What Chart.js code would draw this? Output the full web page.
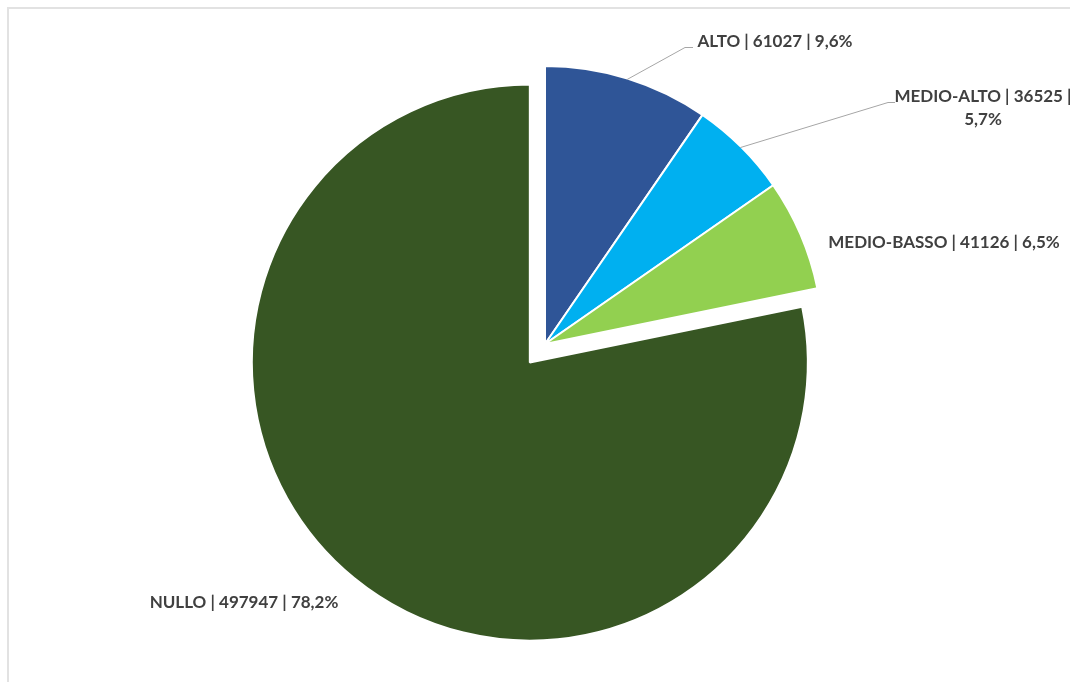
<!DOCTYPE html>
<html lang="it">
<head>
    <meta charset="UTF-8">
    <title>Distribuzione per classe</title>
    <script src="https://cdn.jsdelivr.net/npm/chart.js@4"></script>
    <style>
        * { margin: 0; padding: 0; }
        body { background: #fff; width: 1070px; height: 682px; overflow: hidden; position: relative; }
        #frame {
            position: absolute; left: 7px; top: 7px; width: 1100px; height: 700px;
            border-top: 2px solid #e2e2e2; border-left: 2px solid #e2e2e2;
        }
        canvas { position: absolute; left: 0; top: 0; }
    </style>
</head>
<body>
<div id="frame"></div>
<canvas id="myChart" width="1070" height="682"></canvas>
<script>
    // data
    var categories = ['ALTO', 'MEDIO-ALTO', 'MEDIO-BASSO', 'NULLO'];
    var values = [61027, 36525, 41126, 497947];
    var colors = ['#2F5597', '#00B0F0', '#92D050', '#375623'];

    // how far each slice is pulled out (px)
    var explode = [0, 0, 0, 24];

    // label placement: centre x, baseline y, elbow of leader line (if any)
    var labelPos = [
        {x: 775, y: 47, wrap: false, leader: [[685, 47], [693, 47]]},
        {x: 983, y: 102, wrap: true, leader: [[888, 102], [895, 102]]},
        {x: 944, y: 248, wrap: false, leader: null},
        {x: 244, y: 608, wrap: false, leader: null}
    ];

    var total = values.reduce(function (a, b) { return a + b; }, 0);
    function pct(v) {
        return (v / total * 100).toFixed(1).replace('.', ',') + '%';
    }

    var explodePlugin = {
        id: 'explode',
        afterUpdate: function (chart) {
            var meta = chart.getDatasetMeta(0);
            meta.data.forEach(function (arc, i) {
                var d = explode[i];
                if (!d) return;
                var mid = (arc.startAngle + arc.endAngle) / 2;
                arc.x += Math.cos(mid) * d;
                arc.y += Math.sin(mid) * d;
            });
        }
    };

    var labelPlugin = {
        id: 'pieLabels',
        afterDatasetsDraw: function (chart) {
            var ctx = chart.ctx;
            var meta = chart.getDatasetMeta(0);
            ctx.save();
            ctx.font = 'bold 17px Lato';
            ctx.fillStyle = '#404040';
            ctx.textAlign = 'center';
            ctx.textBaseline = 'alphabetic';
            meta.data.forEach(function (arc, i) {
                var p = labelPos[i];
                var lines;
                if (p.wrap) {
                    lines = [categories[i] + ' | ' + values[i] + ' |', pct(values[i])];
                } else {
                    lines = [categories[i] + ' | ' + values[i] + ' | ' + pct(values[i])];
                }
                lines.forEach(function (t, k) {
                    ctx.fillText(t, p.x, p.y + k * 23);
                });
                if (p.leader) {
                    var mid = (arc.startAngle + arc.endAngle) / 2;
                    var r = arc.outerRadius - 1;
                    ctx.beginPath();
                    ctx.strokeStyle = '#A6A6A6';
                    ctx.lineWidth = 1;
                    ctx.moveTo(arc.x + Math.cos(mid) * r, arc.y + Math.sin(mid) * r);
                    ctx.lineTo(p.leader[0][0], p.leader[0][1] + 0.5);
                    ctx.lineTo(p.leader[1][0], p.leader[1][1] + 0.5);
                    ctx.stroke();
                }
            });
            ctx.restore();
        }
    };

    var ctx = document.getElementById('myChart').getContext('2d');
    var myChart = new Chart(ctx, {
        type: 'pie',
        data: {
            labels: categories,
            datasets: [{
                data: values,
                backgroundColor: colors,
                borderColor: '#ffffff',
                borderWidth: 2
            }]
        },
        options: {
            responsive: false,
            animation: false,
            radius: 278,
            layout: {padding: {left: 20, right: 0, top: 6, bottom: 0}},
            plugins: {
                legend: {display: false},
                tooltip: {enabled: false}
            }
        },
        plugins: [explodePlugin, labelPlugin]
    });
</script>
</body>
</html>
